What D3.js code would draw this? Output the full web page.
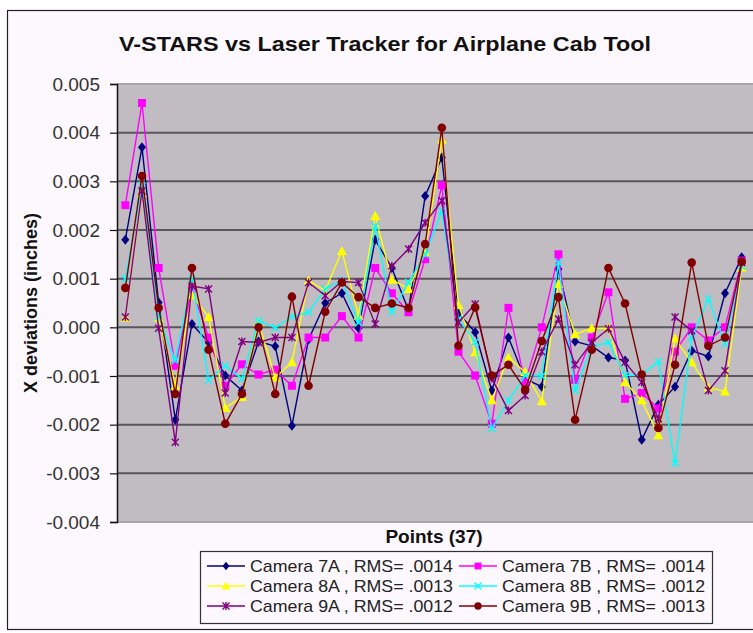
<!DOCTYPE html>
<html lang="en">
<head>
    <meta charset="UTF-8">
    <title>V-STARS vs Laser Tracker</title>
    <style>
        body{margin:0; background:#fff;}
        svg{display:block; font-family:"Liberation Sans", Arial, sans-serif;}
    </style>
</head>
<body>
    <div id="chart"></div>
    <script src="https://cdn.jsdelivr.net/npm/d3@7/dist/d3.min.js"></script>
    <script>
        // data, in thousandths of an inch (converted below)
        var points = d3.range(1, 39);
        var cam7A = [1.80,3.70,0.51,-1.90,0.07,-0.31,-0.99,-1.30,-0.29,-0.39,-2.02,-0.25,0.50,0.70,-0.02,1.80,1.22,0.35,2.70,3.49,0.29,-0.10,-1.30,-0.21,-1.06,-1.22,1.20,-0.29,-0.38,-0.62,-0.68,-2.31,-1.59,-1.22,-0.48,-0.60,0.70,1.44];
        var cam7B = [2.51,4.61,1.22,-0.79,0.80,-0.21,-1.20,-0.76,-0.97,-0.87,-1.20,-0.21,-0.21,0.23,-0.21,1.22,0.70,0.31,1.40,2.92,-0.50,-0.99,-1.98,0.40,-1.13,0.00,1.50,-1.08,-0.21,0.72,-1.47,-1.35,-1.67,-0.50,0.00,-0.27,0.00,1.37];
        var cam8A = [0.20,2.75,0.20,-1.20,0.66,0.21,-1.66,-1.43,0.10,-1.03,-0.72,0.96,0.75,1.57,0.24,2.29,0.98,0.79,1.54,3.86,0.46,-0.51,-1.50,-0.62,-0.92,-1.52,0.89,-0.14,-0.02,-0.02,-1.13,-1.50,-2.22,-0.23,-0.72,-1.23,-1.32,1.23];
        var cam8B = [1.00,2.90,0.22,-0.68,1.00,-1.09,-0.79,-1.06,0.14,-0.01,0.22,0.31,0.79,0.96,0.10,2.08,0.32,0.92,1.50,2.39,0.17,-0.30,-2.08,-1.50,-0.99,-1.00,1.33,-1.30,-0.40,-0.31,-0.99,-0.98,-0.70,-2.80,-0.21,0.59,-0.34,1.26];
        var cam9A = [0.21,2.80,-0.02,-2.36,0.85,0.79,-1.35,-0.29,-0.31,-0.21,-0.21,0.92,0.65,0.94,0.92,0.07,1.26,1.61,2.15,2.60,0.10,0.48,-1.05,-1.71,-1.40,-0.50,0.17,-0.77,-0.31,-0.03,-0.72,-1.13,-1.88,0.21,-0.07,-1.30,-0.89,1.33];
        var cam9B = [0.81,3.11,0.40,-1.37,1.22,-0.46,-1.98,-1.37,0.00,-1.37,0.63,-1.20,0.32,0.92,0.62,0.40,0.49,0.40,1.71,4.10,-0.38,0.41,-0.99,-0.77,-1.28,-0.28,0.62,-1.90,-0.46,1.22,0.49,-0.97,-2.07,-0.77,1.33,-0.38,-0.21,1.35];
        var yTicks = [0.005,0.004,0.003,0.002,0.001,0,-0.001,-0.002,-0.003,-0.004];

        var series = [
            {name:'Camera 7A , RMS= .0014', values:cam7A, color:'#000080', marker:'diamond'},
            {name:'Camera 7B , RMS= .0014', values:cam7B, color:'#ff00ff', marker:'square'},
            {name:'Camera 8A , RMS= .0013', values:cam8A, color:'#ffff00', marker:'triangle'},
            {name:'Camera 8B , RMS= .0012', values:cam8B, color:'#00ffff', marker:'x'},
            {name:'Camera 9A , RMS= .0012', values:cam9A, color:'#800080', marker:'star'},
            {name:'Camera 9B , RMS= .0013', values:cam9B, color:'#800000', marker:'circle'}
        ];

        var width = 753, height = 633;
        var plot = {left:117, right:750, top:84, bottom:522};

        var svg = d3.select('#chart').append('svg')
            .attr('width', width).attr('height', height);

        // chart area
        svg.append('rect').attr('x', 7.5).attr('y', 10.5)
            .attr('width', 760).attr('height', 619)
            .attr('fill', '#fdf8fd').attr('stroke', '#222').attr('stroke-width', 1.2);

        var xScale = d3.scalePoint().domain(points).range([plot.left, plot.right]).padding(0.5);
        var yScale = d3.scaleLinear().domain([-0.004, 0.005]).range([plot.bottom, plot.top]);

        // plot background
        svg.append('rect').attr('x', plot.left).attr('y', plot.top)
            .attr('width', plot.right - plot.left + 3).attr('height', plot.bottom - plot.top)
            .attr('fill', '#c1bcc2');

        // grid
        svg.append('g').selectAll('line')
            .data(yTicks)
            .enter().append('line')
            .attr('x1', plot.left).attr('x2', plot.right + 3)
            .attr('y1', function(d){ return yScale(d); })
            .attr('y2', function(d){ return yScale(d); })
            .attr('stroke', function(d){ return (d > 0.0045 || d < -0.0035) ? '#a9a4aa' : '#5a565b'; })
            .attr('stroke-width', 2);

        // y axis
        var yAxis = d3.axisLeft(yScale).tickValues(yTicks).tickSize(7).tickPadding(10)
            .tickFormat(d3.format('.3f'));
        var gy = svg.append('g').attr('transform', 'translate(' + plot.left + ',0)').call(yAxis);
        gy.select('.domain').attr('stroke', '#111').attr('stroke-width', 1.5);
        gy.selectAll('.tick line').attr('stroke', '#111').attr('stroke-width', 1.2);
        gy.selectAll('.tick text').attr('fill', '#333').style('font-size', '19px')
            .style('font-family', '"Liberation Sans", Arial, sans-serif')
            .text(function(d){ return d3.format('.3f')(d).replace('\u2212', '-'); });

        // titles
        svg.append('text').text('V-STARS vs Laser Tracker for Airplane Cab Tool')
            .attr('x', 385).attr('y', 51).attr('text-anchor', 'middle')
            .attr('textLength', 532).attr('lengthAdjust', 'spacingAndGlyphs')
            .style('font-size', '21px').style('font-weight', 'bold').attr('fill', '#111');
        svg.append('text').text('X deviations (inches)')
            .attr('transform', 'translate(37,' + ((plot.top + plot.bottom) / 2) + ') rotate(-90)')
            .attr('text-anchor', 'middle')
            .style('font-size', '18px').style('font-weight', 'bold').attr('fill', '#111');
        svg.append('text').text('Points (37)')
            .attr('x', 434).attr('y', 543).attr('text-anchor', 'middle')
            .style('font-size', '19px').style('font-weight', 'bold').attr('fill', '#111');

        // marker drawing
        function drawMarker(g, type, color, size){
            var s = size || 1;
            if(type == 'diamond'){
                g.append('path').attr('d', 'M0,' + (-5*s) + 'L' + (4*s) + ',0L0,' + (5*s) + 'L' + (-4*s) + ',0Z').attr('fill', color);
            } else if(type == 'square'){
                g.append('rect').attr('x', -4*s).attr('y', -4*s).attr('width', 8*s).attr('height', 8*s).attr('fill', color);
            } else if(type == 'triangle'){
                g.append('path').attr('d', 'M0,' + (-5*s) + 'L' + (5*s) + ',' + (4*s) + 'L' + (-5*s) + ',' + (4*s) + 'Z').attr('fill', color);
            } else if(type == 'circle'){
                g.append('circle').attr('r', 4.3*s).attr('fill', color);
            } else if(type == 'x'){
                g.append('path').attr('d', 'M-3.5,-3.5L3.5,3.5M-3.5,3.5L3.5,-3.5').attr('stroke', color).attr('stroke-width', 1.4);
            } else if(type == 'star'){
                g.append('path').attr('d', 'M-3.5,-3.5L3.5,3.5M-3.5,3.5L3.5,-3.5M0,-4L0,4').attr('stroke', color).attr('stroke-width', 1.4);
            }
        }

        var line = d3.line()
            .x(function(d, i){ return xScale(points[i]); })
            .y(function(d){ return yScale(d / 1000); });

        series.forEach(function(s){
            var g = svg.append('g');
            g.append('path').attr('d', line(s.values))
                .attr('fill', 'none').attr('stroke', s.color).attr('stroke-width', 1.4);
            g.selectAll('g.m')
                .data(s.values)
                .enter().append('g').attr('class', 'm')
                .attr('transform', function(d, i){ return 'translate(' + xScale(points[i]) + ',' + yScale(d / 1000) + ')'; })
                .each(function(){ drawMarker(d3.select(this), s.marker, s.color); });
        });

        // legend
        var legend = svg.append('g');
        legend.append('rect').attr('x', 200.5).attr('y', 551.5).attr('width', 512).attr('height', 72)
            .attr('fill', '#fdf8fd').attr('stroke', '#333').attr('stroke-width', 1.2);
        series.forEach(function(s, i){
            var col = i % 2, row = Math.floor(i / 2);
            var lx = col == 0 ? 207 : 459;
            var ly = 566 + row * 20;
            var item = legend.append('g');
            item.append('line').attr('x1', lx).attr('x2', lx + 38).attr('y1', ly).attr('y2', ly)
                .attr('stroke', s.color).attr('stroke-width', 1.4);
            drawMarker(item.append('g').attr('transform', 'translate(' + (lx + 19) + ',' + ly + ')'), s.marker, s.color, 0.85);
            item.append('text').text(s.name).attr('x', lx + 43).attr('y', ly + 6)
                .attr('textLength', 203).attr('lengthAdjust', 'spacingAndGlyphs')
                .style('font-size', '17px').attr('fill', '#222');
        });
    </script>
</body>
</html>
